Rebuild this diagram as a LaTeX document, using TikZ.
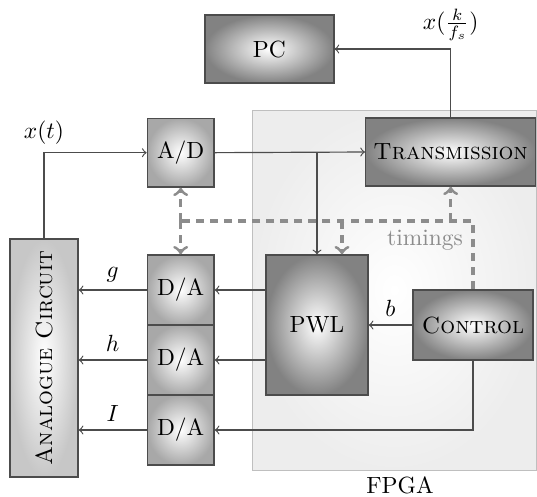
\documentclass[tikz,border=0pt]{standalone}
\usepackage{tikz}
\tikzset{
  block/.style={draw=black!70, line width=0.6pt, shading=radial, inner color=white, align=center},
  lightblock/.style={block, outer color=black!34},
  darkblock/.style={block, outer color=black!49},
  conn/.style={draw=black!70, line width=0.5pt, ->},
  tline/.style={draw=black!45, line width=1.3pt, dash pattern=on 3.4pt off 2.6pt},
}
\begin{document}
\begin{tikzpicture}
\useasboundingbox (0,0) rectangle (8.055,-7.44);
% FPGA area
\draw[black!25, shading=radial, inner color=white, outer color=black!7] (3.78,-1.65) rectangle (8.05,-7.05);
\node (fpga) at (6.0,-7.28) {FPGA};

\node[darkblock, minimum width=1.935cm, minimum height=1.02cm] (pc) at (4.04,-0.735) {PC};
\node[darkblock, minimum width=2.535cm, minimum height=1.02cm] (trans) at (6.76,-2.28) {\textsc{Transmission}};
\node[lightblock, minimum width=1.0cm, minimum height=1.03cm] (ad) at (2.71,-2.29) {A/D};
\node[lightblock, minimum width=1.0cm, minimum height=1.05cm] (da1) at (2.71,-4.35) {D/A};
\node[lightblock, minimum width=1.0cm, minimum height=1.05cm] (da2) at (2.71,-5.4) {D/A};
\node[lightblock, minimum width=1.0cm, minimum height=1.05cm] (da3) at (2.71,-6.45) {D/A};
\node[block, outer color=black!22, rotate=90, minimum width=3.57cm, minimum height=1.02cm] (ana) at (0.66,-5.37) {\textsc{Analogue Circuit}};
\node[darkblock, minimum width=1.53cm, minimum height=2.1cm] (pwl) at (4.755,-4.875) {PWL};
\node[darkblock, minimum width=1.8cm, minimum height=1.05cm] (ctrl) at (7.095,-4.875) {\textsc{Control}};

% signals (ana is turned: its east is on top, its south on the right)
\draw[conn] (ana.east) |- node[pos=0.5, above] {$x(t)$} (ad.west);
\draw[conn] (ad.east) -- (trans.west);
\draw[conn] (pwl.north |- ad.east) -- (pwl.north);
\draw[conn] (trans.north) |- node[pos=0.5, above] {$x(\frac{k}{f_s})$} (pc.east);
\draw[conn] (ctrl.west) -- node[above] {$b$} (pwl.east);
\draw[conn] (pwl.west |- da1.east) -- (da1.east);
\draw[conn] (pwl.west |- da2.east) -- (da2.east);
\draw[conn] (ctrl.south) |- (da3.east);
\draw[conn] (da1.west) -- node[above] {$g$} (ana.south |- da1.west);
\draw[conn] (da2.west) -- node[above] {$h$} (ana.south |- da2.west);
\draw[conn] (da3.west) -- node[above] {$I$} (ana.south |- da3.west);

% timings
\coordinate (tim) at (2.71,-3.315);
\draw[tline] (ctrl.north) |- (tim);
\draw[tline, ->] (tim) -- (ad.south);
\draw[tline, ->] (tim) -- (da1.north);
\draw[tline, ->] (trans.south |- tim) -- (trans.south);
\draw[tline, ->] ([xshift=0.375cm]pwl.north |- tim) -- ([xshift=0.375cm]pwl.north);
\node[text=black!45] (timlbl) at (6.375,-3.6) {timings};
\end{tikzpicture}
\end{document}
